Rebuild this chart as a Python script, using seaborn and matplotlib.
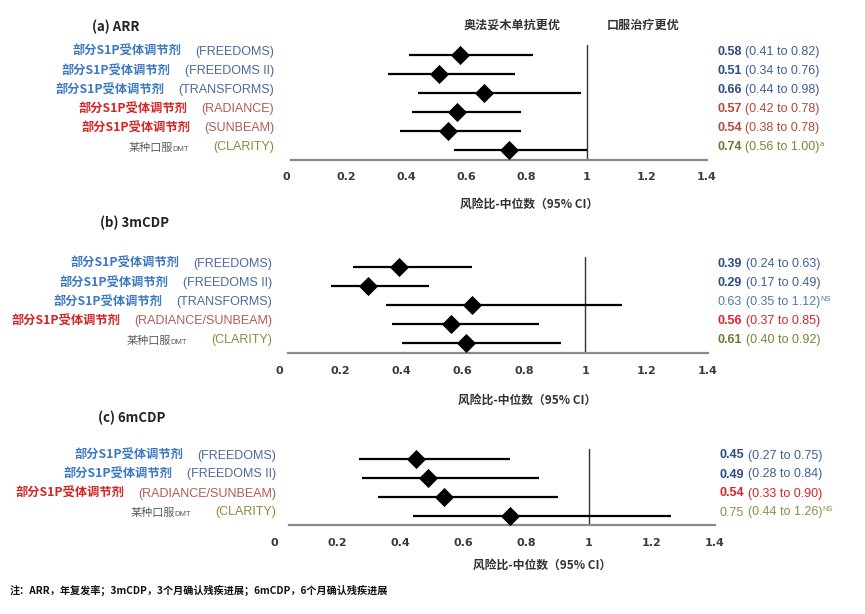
import matplotlib.pyplot as plt
import numpy as np
import pandas as pd
import seaborn as sns

# ---- data ------------------------------------------------------------------
drug_s1p = '部分S1P受体调节剂'
drug_dmt = '某种口服'

trials_a = ['(FREEDOMS)', '(FREEDOMS II)', '(TRANSFORMS)', '(RADIANCE)', '(SUNBEAM)', '(CLARITY)']
groups_a = ['blue', 'blue', 'blue', 'red', 'red', 'dmt']
hr_a = [0.58, 0.51, 0.66, 0.57, 0.54, 0.74]
lo_a = [0.41, 0.34, 0.44, 0.42, 0.38, 0.56]
hi_a = [0.82, 0.76, 0.98, 0.78, 0.78, 1.00]
sup_a = ['', '', '', '', '', 'a']

trials_b = ['(FREEDOMS)', '(FREEDOMS II)', '(TRANSFORMS)', '(RADIANCE/SUNBEAM)', '(CLARITY)']
groups_b = ['blue', 'blue', 'blue', 'red', 'dmt']
hr_b = [0.39, 0.29, 0.63, 0.56, 0.61]
lo_b = [0.24, 0.17, 0.35, 0.37, 0.40]
hi_b = [0.63, 0.49, 1.12, 0.85, 0.92]
sup_b = ['', '', 'NS', '', '']

trials_c = ['(FREEDOMS)', '(FREEDOMS II)', '(RADIANCE/SUNBEAM)', '(CLARITY)']
groups_c = ['blue', 'blue', 'red', 'dmt']
hr_c = [0.45, 0.49, 0.54, 0.75]
lo_c = [0.27, 0.28, 0.33, 0.44]
hi_c = [0.75, 0.84, 0.90, 1.26]
sup_c = ['', '', '', 'NS']

titles = ['(a) ARR', '(b) 3mCDP', '(c) 6mCDP']
xticks = [0, 0.2, 0.4, 0.6, 0.8, 1.0, 1.2, 1.4]
xtick_labels = ['0', '0.2', '0.4', '0.6', '0.8', '1', '1.2', '1.4']
xlabel = '风险比-中位数（95% CI）'
favours = ['奥法妥木单抗更优', '口服治疗更优']
footnote = '注：ARR，年复发率；3mCDP，3个月确认残疾进展；6mCDP，6个月确认残疾进展'

# ---- styling ----------------------------------------------------------------
sns.set_theme(style='white')
plt.rcParams['font.family'] = ['Noto Sans CJK SC', 'DejaVu Sans']

W, H = 865, 614
LAT = 'Liberation Sans'

name_colors = {'blue': '#3b78c4', 'red': '#d42424', 'dmt': '#5a5a5a'}
trial_colors = {'blue': '#4a6a9c', 'red': '#b45a58', 'dmt': '#8a8c3e'}
hr_colors = {'blue': '#2c4a84', 'dmt': '#6b7a2c'}
ci_colors = {'blue': '#3e5f98', 'dmt': '#7a8436'}
ns_colors = {'blue': '#5577aa', 'dmt': '#8a8f4a'}

# pixel layout for each panel: left, right, top, baseline
panels = [
    dict(title=titles[0], trials=trials_a, groups=groups_a, hr=hr_a, lo=lo_a, hi=hi_a, sup=sup_a,
         box=(286, 707, 45, 160), title_xy=(92, 27), trial_right=274, val_left=717,
         spine_start=0.015, xlab_x=0.81, xlab_dy=44, red='#b4473a', header=True),
    dict(title=titles[1], trials=trials_b, groups=groups_b, hr=hr_b, lo=lo_b, hi=hi_b, sup=sup_b,
         box=(279, 708, 257, 353), title_xy=(100, 223), trial_right=272, val_left=718,
         spine_start=0.03, xlab_x=0.81, xlab_dy=47, red='#e0202a', header=False),
    dict(title=titles[2], trials=trials_c, groups=groups_c, hr=hr_c, lo=lo_c, hi=hi_c, sup=sup_c,
         box=(274, 715, 449, 525), title_xy=(98, 418), trial_right=276, val_left=720,
         spine_start=0.048, xlab_x=0.85, xlab_dy=40, red='#e0202a', header=False),
]

fig = plt.figure(figsize=(W / 100, H / 100), dpi=100)

for p in panels:
    left, right, top, bottom = p['box']
    ax = fig.add_axes([left / W, 1 - bottom / H, (right - left) / W, (bottom - top) / H])
    n = len(p['hr'])
    df = pd.DataFrame({'hr': p['hr'], 'lo': p['lo'], 'hi': p['hi'], 'row': np.arange(n)})

    ax.hlines(df['row'], df['lo'], df['hi'], color='black', lw=1.6, zorder=2)
    sns.scatterplot(data=df, x='hr', y='row', marker='D', s=95, color='black',
                    edgecolor='black', linewidth=0, zorder=3, legend=False, ax=ax)
    ax.axvline(1, color='#333333', lw=1.0, zorder=1)

    ax.set_xlim(0, 1.4)
    ax.set_ylim(n - 0.5, -0.5)
    ax.set_xlabel('')
    ax.set_ylabel('')
    ax.set_yticks([])
    ax.set_xticks(xticks)
    ax.set_xticklabels(xtick_labels, fontsize=8, fontweight='bold', color='#3a3a3a',
                       family='DejaVu Sans')
    ax.tick_params(axis='x', length=0, pad=9)
    for s in ['top', 'left', 'right']:
        ax.spines[s].set_visible(False)
    ax.spines['bottom'].set_color('#8a8a8a')
    ax.spines['bottom'].set_linewidth(1.6)
    ax.spines['bottom'].set_bounds(p['spine_start'], 1.4)
    ax.patch.set_alpha(0)

    ytr = ax.get_yaxis_transform()
    for i in range(n):
        g = p['groups'][i]
        # trial name, right aligned
        t_trial = ax.annotate(p['trials'][i], xy=(0, i), xycoords=ytr,
                              xytext=(p['trial_right'] - left, 3), textcoords='offset pixels',
                              ha='right', va='center', family=LAT, fontsize=9,
                              color=trial_colors[g], annotation_clip=False)
        if g == 'dmt':
            t_small = ax.annotate('DMT', xy=(0, 0.5), xycoords=t_trial,
                                  xytext=(-24, -2), textcoords='offset pixels',
                                  ha='right', va='center', family=LAT, fontsize=5.5,
                                  color=name_colors[g])
            ax.annotate(drug_dmt, xy=(0, 0), xycoords=t_small, ha='right', va='bottom',
                        fontsize=8, color=name_colors[g])
        else:
            ax.annotate(drug_s1p, xy=(0, 0.5), xycoords=t_trial,
                        xytext=(-14, 0), textcoords='offset pixels',
                        ha='right', va='center', fontsize=8.8, fontweight='bold',
                        color=name_colors[g])

        # estimate and CI on the right
        ns = p['sup'][i] == 'NS'
        if ns:
            c_hr = c_ci = ns_colors[g]
        elif g == 'red':
            c_hr = c_ci = p['red']
        else:
            c_hr, c_ci = hr_colors[g], ci_colors[g]
        t_hr = ax.annotate('%.2f' % p['hr'][i], xy=(1, i), xycoords=ytr,
                           xytext=(p['val_left'] - right, 3), textcoords='offset pixels',
                           ha='left', va='center', family=LAT, fontsize=9,
                           fontweight='normal' if ns else 'bold', color=c_hr,
                           annotation_clip=False)
        t_ci = ax.annotate('(%.2f to %.2f)' % (p['lo'][i], p['hi'][i]), xy=(1, 0),
                           xycoords=t_hr, xytext=(3.5, 0), textcoords='offset pixels',
                           ha='left', va='bottom', family=LAT, fontsize=9, color=c_ci)
        if p['sup'][i]:
            ax.annotate(p['sup'][i], xy=(1, 0.45), xycoords=t_ci, xytext=(0.5, 0),
                        textcoords='offset pixels', ha='left', va='bottom', family=LAT,
                        fontsize=5.5, color=c_ci)

    # x axis label
    ax.annotate(xlabel, xy=(p['xlab_x'], 0), xycoords=ax.get_xaxis_transform(),
                xytext=(0, -p['xlab_dy']), textcoords='offset pixels',
                ha='center', va='center', fontsize=8.5, fontweight='bold', color='#333333',
                annotation_clip=False)

    if p['header']:
        xtr = ax.get_xaxis_transform()
        for lab, xpos in zip(favours, [0.752, 1.187]):
            ax.annotate(lab, xy=(xpos, 1), xycoords=xtr, xytext=(0, 20),
                        textcoords='offset pixels', ha='center', va='center',
                        fontsize=8.7, fontweight='bold', color='#333333',
                        annotation_clip=False)

    tx, ty = p['title_xy']
    fig.text(tx / W, 1 - ty / H, p['title'], ha='left', va='center', fontsize=9.5,
             fontweight='bold', color='#222222')

fig.text(10 / W, 1 - 590 / H, footnote, ha='left', va='center', fontsize=7.3,
         fontweight='bold', color='#111111')

fig.savefig('out.png', dpi=100, facecolor='white')
